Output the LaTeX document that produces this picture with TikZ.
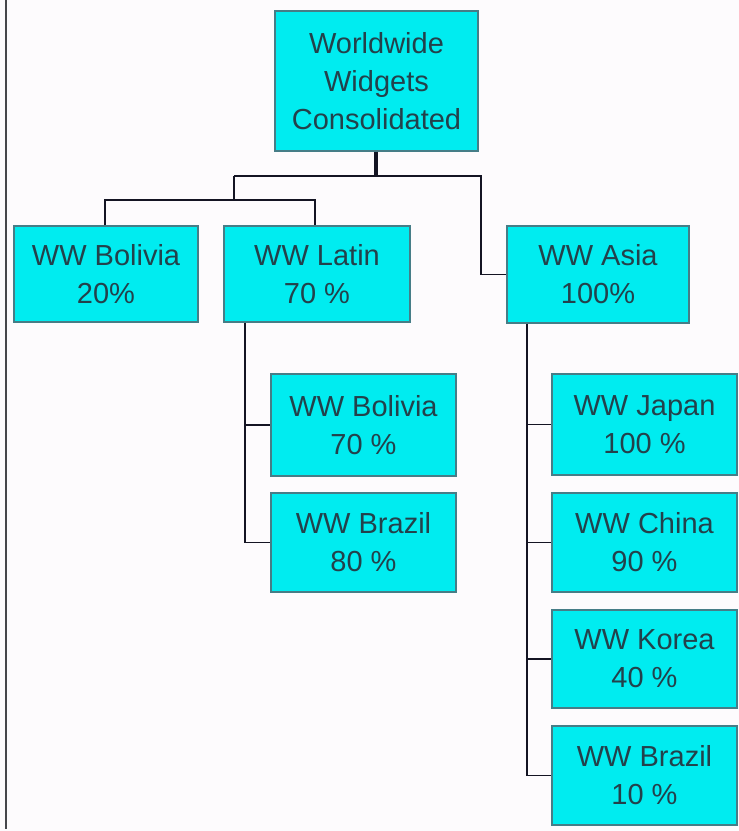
\documentclass[tikz,border=0pt]{standalone}
\usepackage{fontspec}
\setmainfont{Liberation Sans}
\definecolor{bg}{RGB}{253,251,253}
\definecolor{boxfill}{RGB}{0,236,240}
\definecolor{boxline}{RGB}{70,125,135}
\definecolor{txt}{RGB}{35,65,75}
\definecolor{conn}{RGB}{20,20,35}
\definecolor{side}{RGB}{70,70,75}
\begin{document}
\begin{tikzpicture}[x=1pt,y=-1pt,
  orgbox/.style={draw=boxline,line width=1.2pt,fill=boxfill,rectangle,inner sep=0pt,
    align=center,text=txt,font=\fontsize{29}{38}\selectfont},
  conline/.style={draw=conn,line width=1.6pt}]
\useasboundingbox[fill=bg] (0,0) rectangle (739,831);
\draw[side,line width=2.6pt] (6,0) -- (6,829);
% nodes
\node[orgbox,minimum width=203pt,minimum height=140pt] (top) at (376.5,81) {Worldwide\\Widgets\\Consolidated};
\node[orgbox,minimum width=184pt,minimum height=96pt] (bol) at (106,274) {WW Bolivia\\20\%};
\node[orgbox,minimum width=186pt,minimum height=96pt] (lat) at (317,274) {WW Latin\\70 \%};
\node[orgbox,minimum width=182pt,minimum height=97pt] (asia) at (598,274.5) {WW Asia\\100\%};
\node[orgbox,minimum width=185pt,minimum height=102pt] (lbol) at (363.5,425) {WW Bolivia\\70 \%};
\node[orgbox,minimum width=185pt,minimum height=99pt] (lbra) at (363.5,542.5) {WW Brazil\\80 \%};
\node[orgbox,minimum width=185pt,minimum height=101pt] (jap) at (644.5,424.5) {WW Japan\\100 \%};
\node[orgbox,minimum width=185pt,minimum height=99pt] (chi) at (644.5,542.5) {WW China\\90 \%};
\node[orgbox,minimum width=185pt,minimum height=98pt] (kor) at (644.5,659) {WW Korea\\40 \%};
\node[orgbox,minimum width=185pt,minimum height=99pt] (abra) at (644.5,775.5) {WW Brazil\\10 \%};
% junction coordinates
\coordinate (j0) at (376,176);
\coordinate (jl) at (234,176);
\coordinate (jr) at (481,176);
\coordinate (jl2) at (234,200);
\coordinate (jlb) at (105,200);
\coordinate (jll) at (315,200);
% connectors
\draw[conn,line width=3.6pt] (top.south -| j0) -- (j0);
\draw[conline] (jl) -- (jr) |- (asia.west);
\draw[conline] (jl) -- (jl2);
\draw[conline] (bol.north -| jlb) -- (jlb) -- (jll) -- (lat.north -| jll);
\draw[conline] (lat.south -| 245,0) |- (lbra.west);
\draw[conline] (245,0 |- lbol.west) -- (lbol.west);
\draw[conline] (asia.south -| 527,0) |- (abra.west);
\draw[conline] (527,0 |- jap.west) -- (jap.west);
\draw[conline] (527,0 |- chi.west) -- (chi.west);
\draw[conline] (527,0 |- kor.west) -- (kor.west);
\end{tikzpicture}
\end{document}
